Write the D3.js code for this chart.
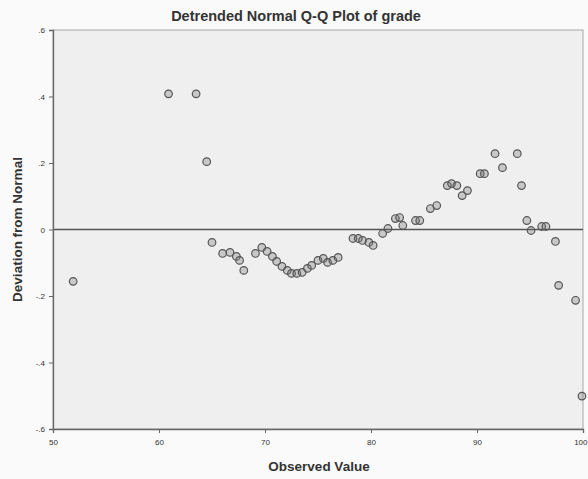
<!DOCTYPE html>
<html>
<head>
<meta charset="utf-8">
<script src="https://cdn.jsdelivr.net/npm/d3@7"></script>
<style>
  html, body { margin: 0; padding: 0; background: #fafafa; }
  svg { display: block; }
  text { font-family: "Liberation Sans", Arial, sans-serif; fill: #333; }
</style>
</head>
<body>
<svg id="chart" width="588" height="479"></svg>
<script>
const title = "Detrended Normal Q-Q Plot of grade";
const xLabel = "Observed Value";
const yLabel = "Deviation from Normal";
const xTicks = [50, 60, 70, 80, 90, 100];
const yTicks = [0.6, 0.4, 0.2, 0.0, -0.2, -0.4, -0.6];
const yTickLabels = [".6", ".4", ".2", "0", "-.2", "-.4", "-.6"];

const observed = [51.9, 60.9, 63.5, 64.5, 65.0, 66.0, 66.7, 67.3, 67.6, 68.0,
  69.1, 69.7, 70.2, 70.7, 71.1, 71.6, 72.1, 72.5, 73.0, 73.5,
  74.0, 74.4, 75.0, 75.5, 75.9, 76.4, 76.9, 78.3, 78.8, 79.2,
  79.8, 80.2, 81.1, 81.6, 82.3, 82.7, 83.0, 84.2, 84.6, 85.6,
  86.2, 87.2, 87.6, 88.1, 88.6, 89.1, 90.3, 90.7, 91.7, 92.4,
  93.8, 94.2, 94.7, 95.1, 96.1, 96.5, 97.4, 97.7, 99.3, 99.9];
const deviation = [-0.156, 0.408, 0.408, 0.204, -0.039, -0.072, -0.069, -0.081, -0.093, -0.123,
  -0.072, -0.054, -0.066, -0.081, -0.096, -0.111, -0.123, -0.132, -0.132, -0.129,
  -0.117, -0.108, -0.093, -0.087, -0.099, -0.093, -0.084, -0.027, -0.027, -0.033,
  -0.039, -0.048, -0.012, 0.003, 0.033, 0.036, 0.012, 0.027, 0.027, 0.063,
  0.072, 0.132, 0.138, 0.132, 0.102, 0.117, 0.168, 0.168, 0.228, 0.186,
  0.228, 0.132, 0.027, -0.003, 0.009, 0.009, -0.036, -0.168, -0.213, -0.501];

const svg = d3.select("#chart");
const mLeft = 53, mRight = 583, mTop = 30, mBottom = 429;

const x = d3.scaleLinear().domain([50, 100]).range([mLeft, mRight]);
const y = d3.scaleLinear().domain([-0.6, 0.6]).range([mBottom, mTop]);

// plot background
svg.append("rect")
  .attr("x", mLeft).attr("y", mTop)
  .attr("width", mRight - mLeft).attr("height", mBottom - mTop)
  .attr("fill", "#efefef")
  .attr("stroke", "#a8a8a8").attr("stroke-width", 1);

// reference line at 0
svg.append("line")
  .attr("x1", mLeft).attr("x2", mRight)
  .attr("y1", y(0)).attr("y2", y(0))
  .attr("stroke", "#555").attr("stroke-width", 1.6);

// axes
const xAxis = d3.axisBottom(x).tickValues(xTicks).tickSize(4).tickPadding(6)
  .tickFormat(d3.format("d"));
const gx = svg.append("g").attr("transform", `translate(0,${mBottom})`).call(xAxis);
gx.select(".domain").attr("stroke", "#666").attr("stroke-width", 1.3);
gx.selectAll(".tick line").attr("stroke", "#666");
gx.selectAll("text").attr("font-size", 8).attr("fill", "#444")
  .style("font-family", "'Liberation Sans', Arial, sans-serif")
  .attr("text-anchor", d => d === 100 ? "end" : "middle")
  .attr("dx", d => d === 100 ? "4" : "0");

const yAxis = d3.axisLeft(y).tickValues(yTicks).tickSize(4).tickPadding(4)
  .tickFormat((d, i) => yTickLabels[i]);
const gy = svg.append("g").attr("transform", `translate(${mLeft},0)`).call(yAxis);
gy.select(".domain").attr("stroke", "#666").attr("stroke-width", 1.3);
gy.selectAll(".tick line").attr("stroke", "#666");
gy.selectAll("text").attr("font-size", 8).attr("fill", "#444")
  .style("font-family", "'Liberation Sans', Arial, sans-serif");

// points
const pts = observed.map((v, i) => ({x: v, y: deviation[i]}));
svg.append("g").selectAll("circle").data(pts).join("circle")
  .attr("cx", d => x(d.x)).attr("cy", d => y(d.y)).attr("r", 3.8)
  .attr("fill", "rgba(110,110,110,0.3)")
  .attr("stroke", "#555").attr("stroke-width", 1.2);

// titles
svg.append("text").attr("x", 296).attr("y", 21)
  .attr("text-anchor", "middle").attr("font-size", 14.5).attr("font-weight", "bold")
  .text(title);
svg.append("text").attr("x", 319).attr("y", 471)
  .attr("text-anchor", "middle").attr("font-size", 13.5).attr("font-weight", "bold")
  .text(xLabel);
svg.append("text")
  .attr("transform", `translate(22,${(mTop + mBottom) / 2}) rotate(-90)`)
  .attr("text-anchor", "middle").attr("font-size", 13.5).attr("font-weight", "bold")
  .text(yLabel);
</script>
</body>
</html>
